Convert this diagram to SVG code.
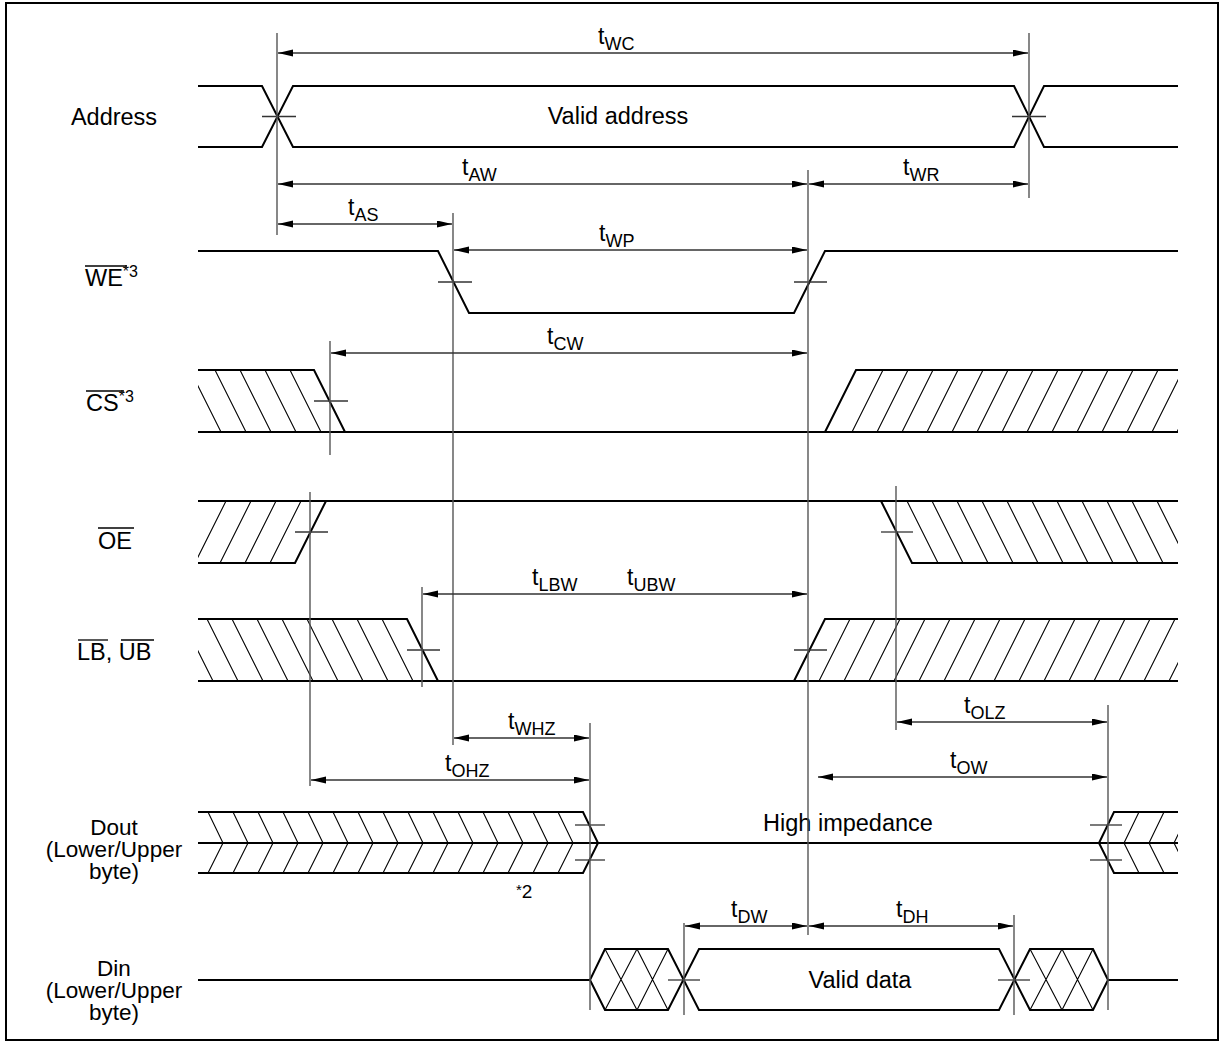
<svg xmlns="http://www.w3.org/2000/svg" width="1225" height="1043" viewBox="0 0 1225 1043">
<style>
.sig{fill:none;stroke:#000;stroke-width:2;stroke-linejoin:miter}
.hat{fill:none;stroke:#000;stroke-width:1.1}
.tick{stroke:#333;stroke-width:1.3}
.ref{stroke:#555;stroke-width:1.4}
.dim{stroke:#333;stroke-width:1.3;marker-start:url(#ah);marker-end:url(#ah)}
.ovl{stroke:#000;stroke-width:1.3}
text{font-family:"Liberation Sans",Arial,sans-serif;fill:#000}
.lbl{font-size:23.5px}
.ml{font-size:22.5px}
.tl{font-size:23px}
.sub{font-size:18px}
</style>
<defs>
<marker id="ah" markerUnits="userSpaceOnUse" markerWidth="16" markerHeight="8" refX="15" refY="3.5" orient="auto-start-reverse">
<path d="M0,0 L15,3.5 L0,7 z" fill="#000"/>
</marker>
<clipPath id="csL"><polygon points="198,370 314,370 345,432 198,432"/></clipPath>
<clipPath id="csR"><polygon points="825,432 856,370 1178,370 1178,432"/></clipPath>
<clipPath id="oeL"><polygon points="198,501 326,501 295,563 198,563"/></clipPath>
<clipPath id="oeR"><polygon points="881,501 1178,501 1178,563 912,563"/></clipPath>
<clipPath id="lbL"><polygon points="198,619 407,619 438,681 198,681"/></clipPath>
<clipPath id="lbR"><polygon points="794,681 825,619 1178,619 1178,681"/></clipPath>
<clipPath id="doR"><rect x="1099" y="800" width="79" height="90"/></clipPath>
</defs>
<rect x="6" y="3" width="1212" height="1037" fill="#fff" stroke="#000" stroke-width="2"/>

<g id="address">
<text class="lbl" x="114" y="125" text-anchor="middle">Address</text>
<path class="sig" d="M198,86 H262 L293,147 H1014 L1044,86 H1178 M198,147 H262 L293,86 H1014 L1044,147 H1178"/>
<line class="tick" x1="262" y1="116.5" x2="296" y2="116.5"/>
<line class="tick" x1="1012" y1="116.5" x2="1046" y2="116.5"/>
<text class="lbl" x="618" y="124" text-anchor="middle">Valid address</text>
</g>

<g id="we">
<text class="lbl" x="85" y="286">WE<tspan font-size="16" dy="-9">*3</tspan></text>
<line class="ovl" x1="85" y1="266" x2="127" y2="266"/>
<path class="sig" d="M198,251 H438 L469,313 H794 L825,251 H1178"/>
<line class="tick" x1="438" y1="282" x2="472" y2="282"/>
<line class="tick" x1="794" y1="282" x2="827" y2="282"/>
</g>

<g id="cs">
<text class="lbl" x="86" y="411">CS<tspan font-size="16" dy="-9">*3</tspan></text>
<line class="ovl" x1="86" y1="391" x2="124" y2="391"/>
<path class="sig" d="M198,370 H314 L345,432 M198,432 H1178 M825,432 L856,370 H1178"/>
<g class="hat" clip-path="url(#csL)">
<path d="M190,370 l31,62 M215,370 l31,62 M240,370 l31,62 M265,370 l31,62 M290,370 l31,62"/>
</g>
<g class="hat" clip-path="url(#csR)">
<path d="M852,432 l31,-62 M877,432 l31,-62 M902,432 l31,-62 M927,432 l31,-62 M952,432 l31,-62 M977,432 l31,-62 M1002,432 l31,-62 M1027,432 l31,-62 M1052,432 l31,-62 M1077,432 l31,-62 M1102,432 l31,-62 M1127,432 l31,-62 M1152,432 l31,-62 M1177,432 l31,-62"/>
</g>
<line class="tick" x1="314" y1="401" x2="348" y2="401"/>
</g>

<g id="oe">
<text class="lbl" x="98" y="549">OE</text>
<line class="ovl" x1="98" y1="528" x2="134" y2="528"/>
<path class="sig" d="M198,501 H1178 M198,563 H295 L326,501 M881,501 L912,563 H1178"/>
<g class="hat" clip-path="url(#oeL)">
<path d="M195,563 l31,-62 M220,563 l31,-62 M245,563 l31,-62 M270,563 l31,-62"/>
</g>
<g class="hat" clip-path="url(#oeR)">
<path d="M907,501 l31,62 M932,501 l31,62 M957,501 l31,62 M982,501 l31,62 M1007,501 l31,62 M1032,501 l31,62 M1057,501 l31,62 M1082,501 l31,62 M1107,501 l31,62 M1132,501 l31,62 M1157,501 l31,62"/>
</g>
<line class="tick" x1="295" y1="532" x2="328" y2="532"/>
<line class="tick" x1="881" y1="532" x2="913" y2="532"/>
</g>

<g id="lbub">
<text class="lbl" x="77" y="660">LB, UB</text>
<line class="ovl" x1="78" y1="640" x2="108" y2="640"/>
<line class="ovl" x1="121" y1="640" x2="154" y2="640"/>
<path class="sig" d="M198,619 H407 L438,681 M198,681 H1178 M794,681 L825,619 H1178"/>
<g class="hat" clip-path="url(#lbL)">
<path d="M182,619 l31,62 M207,619 l31,62 M232,619 l31,62 M257,619 l31,62 M282,619 l31,62 M307,619 l31,62 M332,619 l31,62 M357,619 l31,62 M382,619 l31,62"/>
</g>
<g class="hat" clip-path="url(#lbR)">
<path d="M819,681 l31,-62 M844,681 l31,-62 M869,681 l31,-62 M894,681 l31,-62 M919,681 l31,-62 M944,681 l31,-62 M969,681 l31,-62 M994,681 l31,-62 M1019,681 l31,-62 M1044,681 l31,-62 M1069,681 l31,-62 M1094,681 l31,-62 M1119,681 l31,-62 M1144,681 l31,-62 M1169,681 l31,-62"/>
</g>
<line class="tick" x1="407" y1="650" x2="440" y2="650"/>
<line class="tick" x1="794" y1="650" x2="827" y2="650"/>
</g>

<g id="dout">
<text class="ml" text-anchor="middle"><tspan x="114" y="835">Dout</tspan><tspan x="114" y="857">(Lower/Upper</tspan><tspan x="114" y="879">byte)</tspan></text>
<path class="sig" d="M198,812 H583 L598,843 L583,873 H198 M198,843 H1178 M1178,812 H1114 L1099,843 L1114,873 H1178"/>
<path class="hat" d="M208,812 l15,31 l-15,30 M233,812 l15,31 l-15,30 M258,812 l15,31 l-15,30 M283,812 l15,31 l-15,30 M308,812 l15,31 l-15,30 M333,812 l15,31 l-15,30 M358,812 l15,31 l-15,30 M383,812 l15,31 l-15,30 M408,812 l15,31 l-15,30 M433,812 l15,31 l-15,30 M458,812 l15,31 l-15,30 M483,812 l15,31 l-15,30 M508,812 l15,31 l-15,30 M533,812 l15,31 l-15,30 M558,812 l15,31 l-15,30"/>
<path class="hat" clip-path="url(#doR)" d="M1139,812 l-15,31 l15,30 M1164,812 l-15,31 l15,30 M1189,812 l-15,31 l15,30"/>
<line class="tick" x1="575" y1="825" x2="605" y2="825"/>
<line class="tick" x1="575" y1="860" x2="605" y2="860"/>
<line class="tick" x1="1090" y1="825" x2="1122" y2="825"/>
<line class="tick" x1="1090" y1="860" x2="1122" y2="860"/>
<text class="lbl" x="848" y="831" text-anchor="middle">High impedance</text>
<text x="516" y="898" font-size="19"><tspan font-size="15" dy="-3">*</tspan><tspan dy="3">2</tspan></text>
</g>

<g id="din">
<text class="ml" text-anchor="middle"><tspan x="114" y="976">Din</tspan><tspan x="114" y="998">(Lower/Upper</tspan><tspan x="114" y="1020">byte)</tspan></text>
<path class="sig" d="M198,980 H590 L605,949 H668 L699,1010 H999 L1030,949 H1093 L1108,980 H1178 M590,980 L605,1010 H668 L699,949 H999 L1030,1010 H1093 L1108,980"/>
<path class="hat" d="M605,949 L637,1010 M637,949 L668,1010 M605,1010 L637,949 M637,1010 L668,949 M1030,949 L1062,1010 M1062,949 L1093,1010 M1030,1010 L1062,949 M1062,1010 L1093,949"/>
<line class="tick" x1="668" y1="980" x2="700" y2="980"/>
<line class="tick" x1="998" y1="980" x2="1030" y2="980"/>
<text class="lbl" x="860" y="988" text-anchor="middle">Valid data</text>
</g>

<g id="connectors">
<line class="ref" x1="277" y1="33" x2="277" y2="235"/>
<line class="ref" x1="1029" y1="33" x2="1029" y2="198"/>
<line class="ref" x1="453" y1="213" x2="453" y2="745"/>
<line class="ref" x1="808" y1="170" x2="808" y2="935"/>
<line class="ref" x1="330" y1="341" x2="330" y2="455"/>
<line class="ref" x1="310" y1="492" x2="310" y2="786"/>
<line class="ref" x1="896" y1="486" x2="896" y2="730"/>
<line class="ref" x1="422" y1="587" x2="422" y2="687"/>
<line class="ref" x1="590" y1="723" x2="590" y2="1010"/>
<line class="ref" x1="1108" y1="705" x2="1108" y2="1010"/>
<line class="ref" x1="684" y1="923" x2="684" y2="1015"/>
<line class="ref" x1="1014" y1="915" x2="1014" y2="1015"/>

<line class="dim" x1="278" y1="53" x2="1028" y2="53"/>
<line class="dim" x1="278" y1="184" x2="807" y2="184"/>
<line class="dim" x1="809" y1="184" x2="1028" y2="184"/>
<line class="dim" x1="278" y1="224" x2="452" y2="224"/>
<line class="dim" x1="454" y1="250" x2="807" y2="250"/>
<line class="dim" x1="331" y1="353" x2="807" y2="353"/>
<line class="dim" x1="423" y1="594" x2="807" y2="594"/>
<line class="dim" x1="454" y1="738" x2="589" y2="738"/>
<line class="dim" x1="311" y1="780" x2="589" y2="780"/>
<line class="dim" x1="897" y1="722" x2="1107" y2="722"/>
<line class="dim" x1="818" y1="777" x2="1107" y2="777"/>
<line class="dim" x1="685" y1="926" x2="807" y2="926"/>
<line class="dim" x1="809" y1="926" x2="1013" y2="926"/>

<text class="tl" x="598" y="44">t<tspan class="sub" dy="6">WC</tspan></text>
<text class="tl" x="462" y="175">t<tspan class="sub" dy="6">AW</tspan></text>
<text class="tl" x="903" y="175">t<tspan class="sub" dy="6">WR</tspan></text>
<text class="tl" x="348" y="215">t<tspan class="sub" dy="6">AS</tspan></text>
<text class="tl" x="599" y="241">t<tspan class="sub" dy="6">WP</tspan></text>
<text class="tl" x="547" y="344">t<tspan class="sub" dy="6">CW</tspan></text>
<text class="tl" x="532" y="585">t<tspan class="sub" dy="6">LBW</tspan></text>
<text class="tl" x="627" y="585">t<tspan class="sub" dy="6">UBW</tspan></text>
<text class="tl" x="508" y="729">t<tspan class="sub" dy="6">WHZ</tspan></text>
<text class="tl" x="445" y="771">t<tspan class="sub" dy="6">OHZ</tspan></text>
<text class="tl" x="964" y="713">t<tspan class="sub" dy="6">OLZ</tspan></text>
<text class="tl" x="950" y="768">t<tspan class="sub" dy="6">OW</tspan></text>
<text class="tl" x="731" y="917">t<tspan class="sub" dy="6">DW</tspan></text>
<text class="tl" x="896" y="917">t<tspan class="sub" dy="6">DH</tspan></text>
</g>
</svg>
